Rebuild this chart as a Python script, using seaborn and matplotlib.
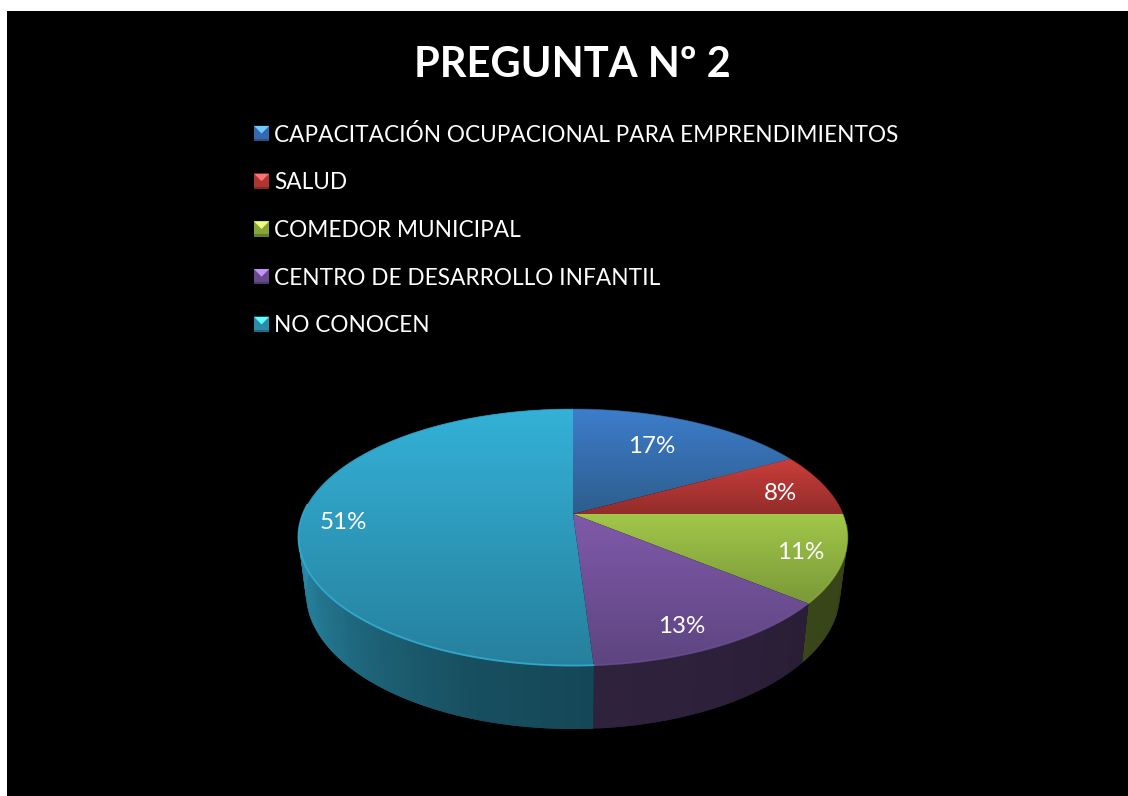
# -*- coding: utf-8 -*-
import numpy as np
import matplotlib
matplotlib.use("Agg")
import matplotlib.pyplot as plt
from matplotlib.collections import PolyCollection
from matplotlib.legend_handler import HandlerBase
from matplotlib.patches import Patch, Polygon
import seaborn as sns

titulo = "PREGUNTA Nº 2"
categorias = ["CAPACITACIÓN OCUPACIONAL PARA EMPRENDIMIENTOS", "SALUD", "COMEDOR MUNICIPAL",
              "CENTRO DE DESARROLLO INFANTIL", "NO CONOCEN"]
valores = [17, 8, 11, 13, 51]

sns.set_theme(style="white")
plt.rcParams['font.family'] = ['Lato', 'DejaVu Sans']

colores_arriba = sns.color_palette(["#3d7dcb", "#cb3e3b", "#a1c749", "#8059aa", "#34b1d7"])
colores_abajo = sns.color_palette(["#2d5d8c", "#922c2a", "#7a9838", "#5d4580", "#26809d"])
colores_base = sns.color_palette(["#3d7dcb", "#cb3e3b", "#9dc244", "#7a56a3", "#31a5c8"])
colores_pared = sns.color_palette(["#3d7dcb", "#cb3e3b", "#96b842", "#6e4f8f", "#31a5c8"])


# perspective of the disc: top face and base have their own ellipse
def proyecta(theta, r=1.0, cara="top"):
    th = np.radians(theta)
    X, Y = r * np.sin(th), r * np.cos(th)
    k = 0.1829
    if cara == "top":
        cx, cy, a, c = 573, 514, 124.2, 269.9
    else:
        cx, cy, a, c = 573, 568.2, 131.4, 262.5
    den = 1 + k * Y
    return cx + c * X / den, cy - a * Y / den


fig = plt.figure(figsize=(11.28, 7.96), dpi=100, facecolor="white")
ax = fig.add_axes([0, 0, 1, 1])
ax.set_xlim(0, 1128)
ax.set_ylim(796, 0)
ax.axis("off")
ax.add_patch(plt.Rectangle((7, 11), 1121, 785, color="black", lw=0, zorder=0))

limites = np.concatenate([[0], np.cumsum(valores)]) * 360 / sum(valores)

# side wall, darker toward the front of the disc
# every strip starts one step back, so no black shows between the strips
ang_sombra = [90, 130, 176, 200, 222, 245, 270, 360]
f_sombra = [0.36, 0.38, 0.43, 0.48, 0.60, 0.75, 0.85, 0.85]
for i in range(len(valores)):
    ts = np.arange(limites[i], limites[i + 1] + 0.5, 1.0)
    ts[-1] = limites[i + 1]
    polys, cols = [], []
    for j in range(len(ts) - 1):
        t0 = ts[max(j - 1, 0)]
        t1 = ts[j + 1]
        x0, y0 = proyecta(t0)
        x1, y1 = proyecta(t1)
        x2, y2 = proyecta(t1, cara="base")
        x3, y3 = proyecta(t0, cara="base")
        polys.append([(x0, y0), (x1, y1), (x2, y2), (x3, y3)])
        f = np.interp((ts[j] + ts[j + 1]) / 2, ang_sombra, f_sombra)
        cols.append(tuple(np.array(colores_pared[i]) * f))
    ax.add_collection(PolyCollection(polys, facecolors=cols, edgecolors="none", linewidths=0, zorder=1))

# top face, each slice with its own vertical gradient
for i in range(len(valores)):
    ts = np.linspace(limites[i], limites[i + 1], 200)
    xs, ys = proyecta(ts)
    xs = np.concatenate([[573], xs])
    ys = np.concatenate([[514], ys])
    grad = np.linspace(0, 1, 128)[:, None, None]
    img = np.array(colores_arriba[i])[None, None, :] * (1 - grad) + np.array(colores_abajo[i])[None, None, :] * grad
    im = ax.imshow(img, extent=(xs.min(), xs.max(), ys.max(), ys.min()), aspect="auto",
                   interpolation="bilinear", zorder=2)
    pg = Polygon(np.column_stack([xs, ys]), closed=True, fc="none", ec="none", transform=ax.transData)
    ax.add_patch(pg)
    im.set_clip_path(pg)
    # soft edge over the clipped image
    ax.plot(xs[1:], ys[1:], color=colores_abajo[i], lw=0.7, alpha=0.5, zorder=3)
    # bevel on the front rim, strong only on the big slice
    vis = (ts > 95) & (ts < 275)
    if vis.any():
        ax.plot(xs[1:][vis], ys[1:][vis] - 0.5, color=colores_arriba[i], lw=1.3,
                alpha=0.8 if i == 4 else 0.3, zorder=3)

ax.set_xlim(0, 1128)
ax.set_ylim(796, 0)

# percent labels
radios_etq = [0.66, 0.82, 0.85, 0.84, 0.85]
desp_etq = [(-3, -4), (1, 4), (0, 1), (-11, 5), (1, 5)]
for i, v in enumerate(valores):
    xt, yt = proyecta((limites[i] + limites[i + 1]) / 2, r=radios_etq[i])
    ax.text(xt + desp_etq[i][0], yt + desp_etq[i][1], "%d%%" % v, color="white", fontsize=17.4,
            ha="center", va="center", zorder=5)

ax.text(572.5, 65, titulo, color="white", fontsize=30, fontweight="bold", ha="center", va="center", zorder=5)


# bevelled square used by the legend
class CuadroBisel(HandlerBase):
    def create_artists(self, legend, orig_handle, xdescent, ydescent, width, height, fontsize, trans):
        c = np.array(matplotlib.colors.to_rgb(orig_handle.get_facecolor()))
        x0, y0 = -xdescent, -ydescent
        x1, y1 = x0 + width, y0 + height
        xm, ym = (x0 + x1) / 2, (y0 + y1) / 2
        claro = np.minimum(c * 1.35 + 0.12, 1)
        partes = [
            ([(x0, y0), (x1, y0), (x1, y1), (x0, y1)], c * 0.85),
            ([(x0, y1), (x1, y1), (xm, ym)], claro),
            ([(x0, y0), (x1, y0), (x1, y0 + height * 0.15), (x0, y0 + height * 0.15)], c * 0.65),
        ]
        return [Polygon(p, closed=True, fc=col, ec="none", transform=trans) for p, col in partes]


handles = [Patch(facecolor=c, label=n) for c, n in zip(colores_base, categorias)]
ax.legend(handles=handles, handler_map={Patch: CuadroBisel()}, loc="upper left",
          bbox_to_anchor=(254, 123.5), bbox_transform=ax.transData, frameon=False,
          fontsize=16.3, labelcolor="white", borderpad=0, borderaxespad=0,
          handlelength=0.67, handleheight=0.67, handletextpad=0.22, labelspacing=1.18)

fig.savefig("out.png", dpi=100, facecolor="white")
